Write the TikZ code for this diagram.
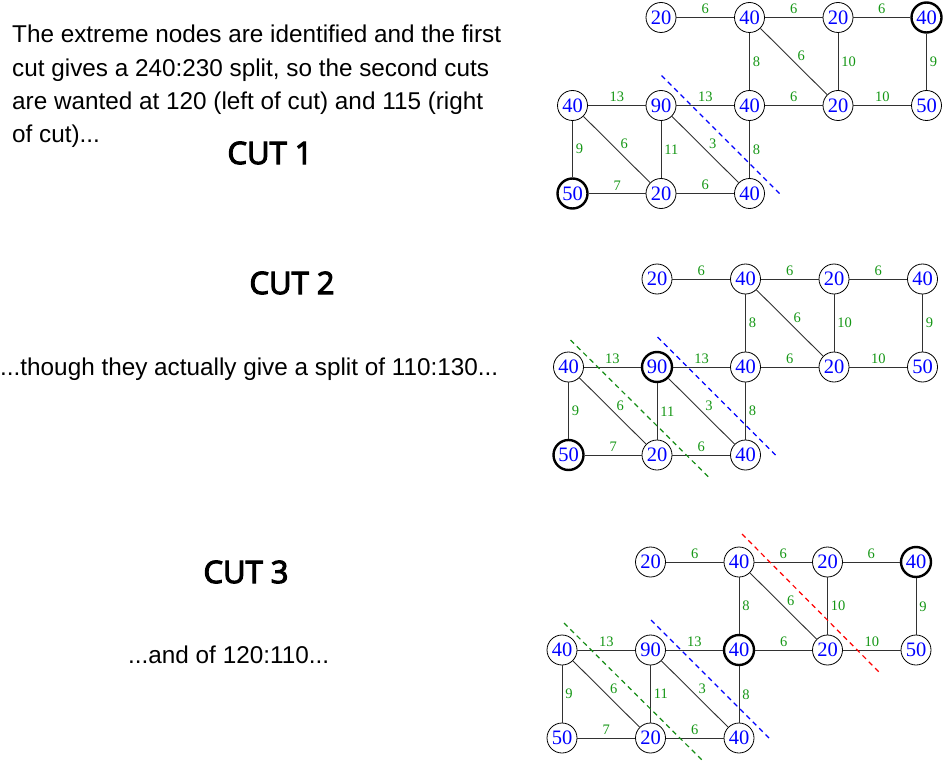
\documentclass[tikz,border=0pt]{standalone}
\usepackage{fontspec}
\setmainfont{Liberation Sans}
\newfontfamily\nodefont{Liberation Serif}
\newfontfamily\cutfont[FakeBold=3.5]{Open Sans}
\definecolor{lblgreen}{RGB}{20,150,20}
\definecolor{edgegray}{RGB}{50,50,50}
\definecolor{cutgreen}{RGB}{20,140,20}
\tikzset{
 vn/.style={circle,draw,line width=0.8pt,minimum size=30pt,inner sep=0pt,fill=white,text=blue,font=\nodefont\fontsize{20.5}{20.5}\selectfont},
 thk/.style={line width=2.4pt},
 thkab0/.style={thk}, thkat4/.style={thk},
 thkbm1/.style={thk}, thkbb0/.style={thk},
 thkcm2/.style={thk}, thkct4/.style={thk},
 ed/.style={draw=edgegray,line width=0.9pt},
 lab/.style={inner sep=0pt,text=lblgreen,font=\nodefont\fontsize{14.5}{14.5}\selectfont},
 hl/.style={lab,anchor=south,yshift=3pt},
 vl/.style={lab,anchor=west,xshift=3pt},
 dl/.style={lab,anchor=south west,xshift=3.5pt},
 cutline/.style={dash pattern=on 5pt off 4pt,line width=1.2pt},
 bodytext/.style={anchor=base west,inner sep=0pt,font=\fontsize{24.3}{24.3}\selectfont},
 cuttitle/.style={inner sep=0pt,font=\cutfont\fontsize{31}{31}\selectfont}
}
\newcommand\gph[3]{%
\begin{scope}[shift={(#2,#3)}]
\node[vn,thk#1t1/.try] (#1t1) at (88.5,0) {20};
\node[vn,thk#1t2/.try] (#1t2) at (177,0) {40};
\node[vn,thk#1t3/.try] (#1t3) at (265.5,0) {20};
\node[vn,thk#1t4/.try] (#1t4) at (354,0) {40};
\node[vn,thk#1m0/.try] (#1m0) at (0,88) {40};
\node[vn,thk#1m1/.try] (#1m1) at (88.5,88) {90};
\node[vn,thk#1m2/.try] (#1m2) at (177,88) {40};
\node[vn,thk#1m3/.try] (#1m3) at (265.5,88) {20};
\node[vn,thk#1m4/.try] (#1m4) at (354,88) {50};
\node[vn,thk#1b0/.try] (#1b0) at (0,176) {50};
\node[vn,thk#1b1/.try] (#1b1) at (88.5,176) {20};
\node[vn,thk#1b2/.try] (#1b2) at (177,176) {40};
\draw[ed] (#1t1) -- node[hl]{6} (#1t2);
\draw[ed] (#1t2) -- node[hl]{6} (#1t3);
\draw[ed] (#1t3) -- node[hl]{6} (#1t4);
\draw[ed] (#1t2) -- node[vl]{8} (#1m2);
\draw[ed] (#1t2) -- node[dl]{6} (#1m3);
\draw[ed] (#1t3) -- node[vl]{10} (#1m3);
\draw[ed] (#1t4) -- node[vl]{9} (#1m4);
\draw[ed] (#1m0) -- node[hl]{13} (#1m1);
\draw[ed] (#1m1) -- node[hl]{13} (#1m2);
\draw[ed] (#1m2) -- node[hl]{6} (#1m3);
\draw[ed] (#1m3) -- node[hl]{10} (#1m4);
\draw[ed] (#1m0) -- node[vl]{9} (#1b0);
\draw[ed] (#1m0) -- node[dl]{6} (#1b1);
\draw[ed] (#1m1) -- node[vl]{11} (#1b1);
\draw[ed] (#1m1) -- node[dl]{3} (#1b2);
\draw[ed] (#1m2) -- node[vl]{8} (#1b2);
\draw[ed] (#1b0) -- node[hl]{7} (#1b1);
\draw[ed] (#1b1) -- node[hl]{6} (#1b2);
\end{scope}}
\begin{document}
\begin{tikzpicture}[x=1pt,y=-1pt]
\useasboundingbox (0,0) rectangle (944,762);
% texts
\node[bodytext] (t1) at (12,43) {The extreme nodes are identified and the first};
\node[bodytext] (t2) at (12,76.5) {cut gives a 240:230 split, so the second cuts};
\node[bodytext] (t3) at (12,109.5) {are wanted at 120 (left of cut) and 115 (right};
\node[bodytext] (t4) at (12,142.5) {of cut)...};
\node[bodytext] (t5) at (0,375) {...though they actually give a split of 110:130...};
\node[bodytext] (t6) at (128,663) {...and of 120:110...};
\node[cuttitle] (c1) at (270,153) {CUT 1};
\node[cuttitle] (c2) at (292,283) {CUT 2};
\node[cuttitle] (c3) at (246,572) {CUT 3};
% graphs
\gph{a}{572.5}{17.5}
\gph{b}{568.5}{279}
\gph{c}{562}{562}
% cut lines
\begin{scope}[shift={(572.5,17.5)}]
\coordinate (a1s) at (89,58); \coordinate (a1e) at (207,176);
\draw[cutline,blue] (a1s) -- (a1e);
\end{scope}
\begin{scope}[shift={(568.5,279)}]
\coordinate (b1s) at (89,58); \coordinate (b1e) at (207,176);
\coordinate (b2s) at (2,61); \coordinate (b2e) at (140,198);
\draw[cutline,blue] (b1s) -- (b1e);
\draw[cutline,cutgreen] (b2s) -- (b2e);
\end{scope}
\begin{scope}[shift={(562,562)}]
\coordinate (c1s) at (89,58); \coordinate (c1e) at (207,176);
\coordinate (c2s) at (2,61); \coordinate (c2e) at (140,198);
\coordinate (c3s) at (180,-28); \coordinate (c3e) at (317,110);
\draw[cutline,blue] (c1s) -- (c1e);
\draw[cutline,cutgreen] (c2s) -- (c2e);
\draw[cutline,red] (c3s) -- (c3e);
\end{scope}
\end{tikzpicture}
\end{document}
